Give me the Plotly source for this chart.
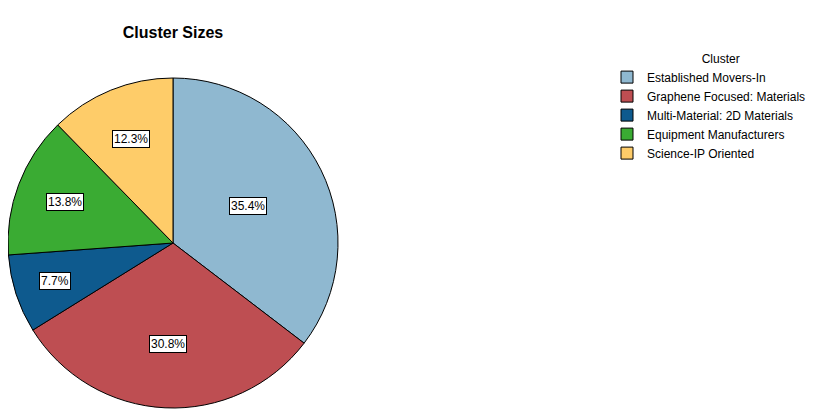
import math
import plotly.graph_objects as go

# Cluster sizes (counts, n = 65)
clusters = [
    "Established Movers-In",
    "Graphene Focused: Materials",
    "Multi-Material: 2D Materials",
    "Equipment Manufacturers",
    "Science-IP Oriented",
]
counts = [23, 20, 5, 9, 8]
colors = ["#8FB8D0", "#BE4E52", "#0E5A8E", "#3AAB33", "#FECC69"]

W, H = 814, 415
# pie placement in figure pixels (page has an 8px body margin)
cx, cy, rad = 165, 180, 165
label_dist = [0.51, 0.61, 0.75, 0.70, 0.68]

fig = go.Figure(
    go.Pie(
        labels=clusters,
        values=counts,
        sort=False,
        direction="clockwise",
        rotation=0,
        marker=dict(colors=colors, line=dict(color="black", width=1)),
        textinfo="none",
        hoverinfo="label+percent",
        domain=dict(x=[(cx - rad) / W, (cx + rad) / W], y=[(cy - rad) / H, (cy + rad) / H]),
    )
)

# boxed percentage labels at the slice mid-angles
total = sum(counts)
cum = 0
for v, d in zip(counts, label_dist):
    mid = (cum + v / 2) / total * 2 * math.pi
    cum += v
    fig.add_annotation(
        x=(cx + d * rad * math.sin(mid)) / W,
        y=(cy + d * rad * math.cos(mid)) / H,
        xref="paper", yref="paper",
        xanchor="center", yanchor="middle",
        text=f"{v / total * 100:.1f}%",
        showarrow=False,
        font=dict(size=12, color="black"),
        bgcolor="white",
        bordercolor="black",
        borderwidth=1,
        borderpad=1,
    )

fig.update_layout(
    width=W,
    height=H,
    margin=dict(l=0, r=0, t=0, b=0, autoexpand=False),
    paper_bgcolor="white",
    font=dict(family="Liberation Sans, Arial, sans-serif", size=12, color="black"),
    title=dict(
        text="<b>Cluster Sizes</b>",
        x=cx / W, xanchor="center", xref="paper",
        y=1 - 24 / H, yanchor="middle", yref="container",
        font=dict(size=16, color="black"),
    ),
    legend=dict(
        title=dict(text="&nbsp;" * 7 + "Cluster", side="top center", font=dict(size=12)),
        x=599 / W, xanchor="left",
        y=1 - 39 / H, yanchor="top",
        font=dict(size=12),
        tracegroupgap=0,
        itemwidth=30,
    ),
)

fig.write_html("out.html")
